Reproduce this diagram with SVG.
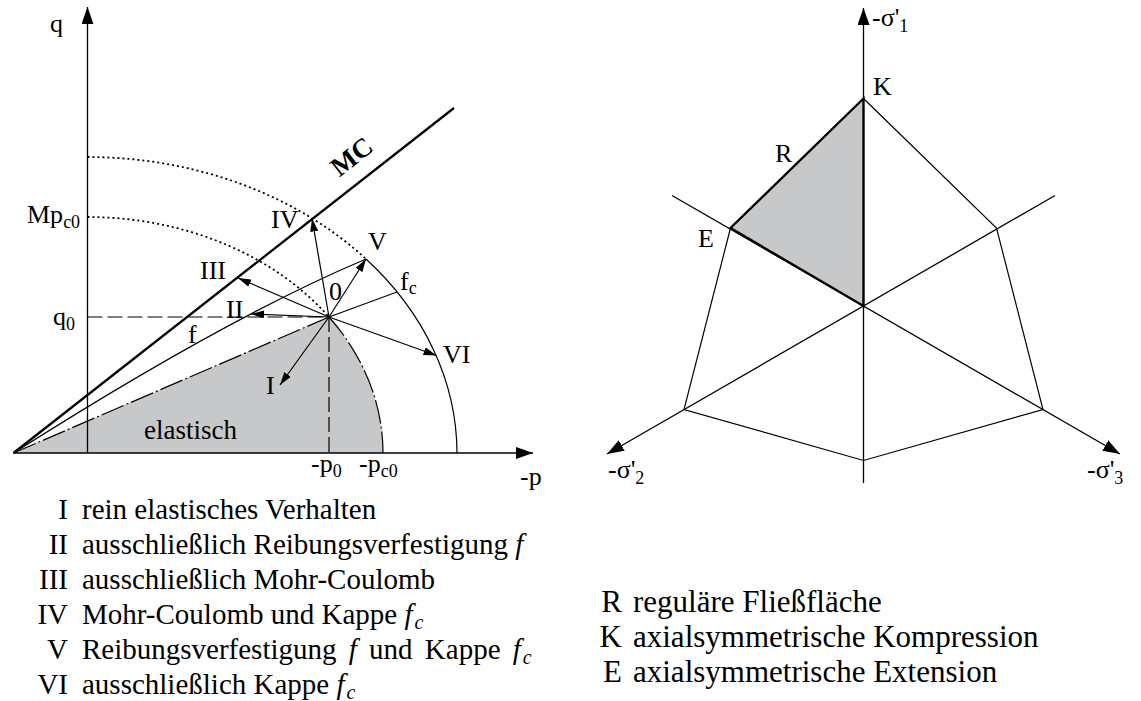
<svg xmlns="http://www.w3.org/2000/svg" width="1141" height="701" viewBox="0 0 1141 701">
<defs>
<style>
.t{font-family:"Liberation Serif","Times New Roman","DejaVu Serif",serif;font-size:26px;fill:#000}
.lg{font-family:"Liberation Serif","Times New Roman","DejaVu Serif",serif;font-size:29px;fill:#000}
.lr{font-family:"Liberation Serif","Times New Roman","DejaVu Serif",serif;font-size:31px;fill:#000}
.it{font-style:italic}
.ln{fill:none;stroke:#000;stroke-width:1.2}
.thick{fill:none;stroke:#000;stroke-width:2.3}
.dash{fill:none;stroke:#000;stroke-width:1.2;stroke-dasharray:15 5}
.dot{fill:none;stroke:#000;stroke-width:1.8;stroke-dasharray:2 3}
.dd{fill:none;stroke:#000;stroke-width:1.2;stroke-dasharray:24 3 2 3}
.arr{fill:none;stroke:#000;stroke-width:1.2;marker-end:url(#ah)}
.ax{fill:none;stroke:#000;stroke-width:1.3;marker-end:url(#axh)}
.grey{fill:#c7c8ca;stroke:none}
</style>
<marker id="ah" viewBox="0 0 13 8" refX="13" refY="4" markerWidth="13" markerHeight="8" orient="auto" markerUnits="userSpaceOnUse"><path d="M0,0L13,4L0,8z" fill="#000"/></marker>
<marker id="axh" viewBox="0 0 17 12" refX="17" refY="6" markerWidth="17" markerHeight="12" orient="auto" markerUnits="userSpaceOnUse"><path d="M0,0L17,6L0,12z" fill="#000"/></marker>
</defs>
<rect x="0" y="0" width="1141" height="701" fill="#fff"/>

<!-- Left: p-q diagram -->
<g id="elastic-region">
<path class="grey" d="M13.5,453 L329,317 A295.5,236 0 0 1 383,453 Z"/>
<text class="t" x="144" y="439" style="font-size:27px">elastisch</text>
</g>
<g id="axes-pq">
<path class="ax" d="M87.5,453 L87.5,7"/>
<path class="ax" d="M13.5,453 L533,453"/>
<text class="t" x="50" y="32">q</text>
<text class="t" x="520" y="485">-p</text>
<text class="t" x="27" y="223">Mp<tspan font-size="18" dy="5">c0</tspan></text>
<text class="t" x="53" y="325">q<tspan font-size="18" dy="5">0</tspan></text>
<text class="t" x="311" y="472">-p<tspan font-size="18" dy="5">0</tspan></text>
<text class="t" x="359" y="472">-p<tspan font-size="18" dy="5">c0</tspan></text>
</g>
<g id="surfaces">
<path class="dd" d="M13.5,453 L329,317"/>
<path class="dd" d="M329,317 A295.5,236 0 0 1 383,453"/>
<path class="dot" d="M87.5,217 A295.5,236 0 0 1 329,317"/>
<path class="dot" d="M87.5,157 A369.5,296 0 0 1 366,259"/>
<path class="ln" d="M366,259 A369.5,296 0 0 1 457,453"/>
<path class="dash" d="M87.5,317 L329,317"/>
<path class="dash" d="M329,317 L329,453"/>
<path class="thick" d="M13.5,453 L454,108"/>
<path class="ln" d="M13.5,453 Q226,318 366,259"/>
<path class="ln" d="M329,317 L397,292"/>
<text class="t" transform="translate(339.5,177.5) rotate(-38.07)" style="font-weight:bold;font-size:27px">MC</text>
<text class="t" x="188" y="343">f</text>
<text class="t" x="400" y="290">f<tspan font-size="18" dy="4">c</tspan></text>
</g>
<g id="connectors">
<path class="arr" d="M329,317 L280,385"/>
<path class="arr" d="M329,317 L251,314"/>
<path class="arr" d="M329,317 L238,278"/>
<path class="arr" d="M329,317 L312,218.5"/>
<path class="arr" d="M329,317 L366,259"/>
<path class="arr" d="M329,317 L436.5,355.5"/>
</g>
<g id="path-labels">
<text class="t" x="329" y="300">0</text>
<text class="t" x="266" y="394">I</text>
<text class="t" x="226" y="318">II</text>
<text class="t" x="200" y="279">III</text>
<text class="t" x="271" y="228">IV</text>
<text class="t" x="368" y="250">V</text>
<text class="t" x="443" y="363">VI</text>
</g>

<!-- Left legend -->
<g id="legend-left">
<text class="lg" x="68" y="519" text-anchor="end">I</text>
<text class="lg" x="82" y="519">rein elastisches Verhalten</text>
<text class="lg" x="68" y="554" text-anchor="end">II</text>
<text class="lg" x="82" y="554">ausschließlich Reibungsverfestigung <tspan class="it">f</tspan></text>
<text class="lg" x="68" y="589" text-anchor="end">III</text>
<text class="lg" x="82" y="589">ausschließlich Mohr-Coulomb</text>
<text class="lg" x="68" y="623.5" text-anchor="end">IV</text>
<text class="lg" x="82" y="623.5">Mohr-Coulomb und Kappe <tspan class="it">f</tspan><tspan class="it" font-size="20" dx="2" dy="5">c</tspan></text>
<text class="lg" x="68" y="658.5" text-anchor="end">V</text>
<text class="lg" x="82" y="658.5" word-spacing="5">Reibungsverfestigung <tspan class="it">f</tspan> und Kappe <tspan class="it">f</tspan><tspan class="it" font-size="20" dx="2" dy="5">c</tspan></text>
<text class="lg" x="68" y="693.5" text-anchor="end">VI</text>
<text class="lg" x="82" y="693.5">ausschließlich Kappe <tspan class="it">f</tspan><tspan class="it" font-size="20" dx="2" dy="5">c</tspan></text>
</g>

<!-- Right: deviatoric plane -->
<g id="region-R">
<path class="grey" d="M863.5,98.5 L730.5,228 L863.5,306 Z"/>
</g>
<g id="axes-sigma">
<path class="ax" d="M863.5,483 L863.5,8"/>
<path class="ax" d="M672,195.5 L1120,454"/>
<path class="ax" d="M1055,195.5 L607,454"/>
<text class="t" x="872" y="26">-σ'<tspan font-size="18" dy="6">1</tspan></text>
<text class="t" x="608" y="478">-σ'<tspan font-size="18" dy="6">2</tspan></text>
<text class="t" x="1087" y="478">-σ'<tspan font-size="18" dy="6">3</tspan></text>
</g>
<g id="yield-surface">
<path class="ln" d="M730.5,228 L684,409.5 L863.5,460.5 L1043,409.5 L996.5,228 L863.5,98.5"/>
<path class="thick" d="M863.5,98.5 L730.5,228 L863.5,306 Z" stroke-linejoin="miter"/>
<text class="t" x="873" y="95">K</text>
<text class="t" x="775" y="162">R</text>
<text class="t" x="698" y="247">E</text>
</g>

<!-- Right legend -->
<g id="legend-right">
<text class="lr" x="622" y="612" text-anchor="end">R</text>
<text class="lr" x="633" y="612">reguläre Fließfläche</text>
<text class="lr" x="622" y="647" text-anchor="end">K</text>
<text class="lr" x="633" y="647">axialsymmetrische Kompression</text>
<text class="lr" x="622" y="682" text-anchor="end">E</text>
<text class="lr" x="633" y="682">axialsymmetrische Extension</text>
</g>
</svg>
